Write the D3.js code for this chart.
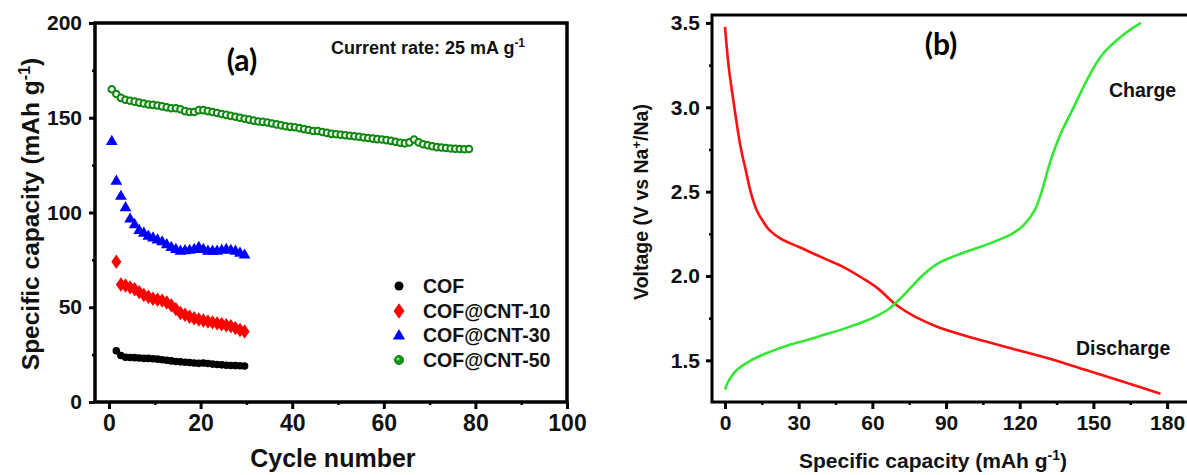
<!DOCTYPE html>
<html><head><meta charset="utf-8">
<script src="https://cdn.jsdelivr.net/npm/d3@7"></script>
<style>
body{margin:0;background:#fff;}
svg{display:block;font-family:"Liberation Sans",Arial,sans-serif;}
</style></head>
<body><svg id="c" width="1187" height="475"></svg>
<script>
// ---------- Panel (a) data ----------
const cofCycles = d3.range(2, 31);
const cofValues = [27,24.5,23.6,23.5,23.4,23.2,23,23,22.8,22.6,22.3,22,21.7,21.4,21.2,21,20.8,20.6,20.4,20.6,20.3,20,19.8,19.6,19.4,19.3,19.2,19.1,19];
const cnt10Cycles = d3.range(2, 31);
const cnt10Values = [74,62,61.5,60.5,59.5,58,56.5,55.5,54.5,54,53.5,52.5,51,49,47,46,45,44.2,43.5,43,42.5,42,41.5,41,40.5,40,39,38,37.2];
const cnt30Cycles = d3.range(1, 31);
const cnt30Values = [138,117,109,103,97,94,91,89.5,88,87,86,85,83.5,82,81,80,80.3,80.5,81,82,81,80,80,80,80.5,81,80.5,80,79,78];
const cnt50Cycles = d3.range(1, 80);
const cnt50Values = [165,162.5,160.5,159.5,159,158.5,158,157.5,157,156.8,156.5,156,155.5,155,155,154.5,153.5,153,153,154,154,153.5,153,152.5,152,151.5,151,150.5,150,149.5,149,148.5,148,147.8,147.5,147,146.5,146,145.5,145.2,145,144.5,144,143.5,143,143,142.5,142,141.5,141.3,141,140.8,140.5,140.2,140,139.6,139.3,139,138.7,138.5,138.2,137.8,137.3,136.8,136.5,137,138.5,137,136,135.5,135,134.5,134.3,134,133.8,133.6,133.5,133.4,133.5];
const seriesNames = ["COF","COF@CNT-10","COF@CNT-30","COF@CNT-50"];
const xTicksA = [0,20,40,60,80,100];
const yTicksA = [0,50,100,150,200];

// ---------- Panel (b) data ----------
const dischargeCap = [0,1.5,3,4.6,6.4,8.4,10.6,12.9,15.2,18.2,22.8,30.4,41,48.6,56.2,62.3,69.9,77.5,86.6,101.8,117,132.2,147.3,162.5,177.3];
const dischargeV   = [3.476,3.24,3.08,2.92,2.76,2.63,2.49,2.39,2.33,2.27,2.22,2.17,2.10,2.05,1.985,1.925,1.826,1.757,1.698,1.629,1.569,1.510,1.441,1.372,1.302];
const chargeCap = [0,1.5,4.6,10.6,18.2,25.8,33.4,41,48.6,56.2,62.3,66.8,71.4,75.9,80.5,86.6,94.2,101.8,109.4,117,121.5,126.1,129.1,132.2,136.7,141.3,147.3,153.4,159.5,165.6,169.4];
const chargeV   = [1.326,1.38,1.44,1.50,1.55,1.59,1.62,1.654,1.688,1.727,1.767,1.806,1.866,1.935,2.004,2.073,2.122,2.162,2.202,2.251,2.30,2.39,2.508,2.666,2.844,2.98,3.16,3.308,3.397,3.466,3.5];
const xTicksB = [0,30,60,90,120,150,180];
const yTicksB = [1.5,2.0,2.5,3.0,3.5];

const svg = d3.select("#c");

function centerText(t, cx, cy, rot){
  const b = t.node().getBBox();
  t.attr("transform", `translate(${cx},${cy}) rotate(${rot||0}) translate(${-b.x - b.width/2},${-b.y - b.height/2})`);
}

// ================= Panel (a) =================
const xa = d3.scaleLinear().domain([-3.06,100]).range([95,567]);
const ya = d3.scaleLinear().domain([0,200]).range([402,23]);
const ga = svg.append("g");

ga.append("g").attr("transform","translate(0,402)")
  .call(d3.axisBottom(xa).tickValues(d3.range(10,100,20)).tickSize(3).tickFormat(""))
  .call(g=>g.select(".domain").remove())
  .call(g=>g.selectAll("line").attr("stroke-width",2.5));
ga.append("g").attr("transform","translate(95,0)")
  .call(d3.axisLeft(ya).tickValues(d3.range(25,200,50)).tickSize(3).tickFormat(""))
  .call(g=>g.select(".domain").remove())
  .call(g=>g.selectAll("line").attr("stroke-width",2.5));
ga.append("g").attr("transform","translate(0,402)")
  .call(d3.axisBottom(xa).tickValues(xTicksA).tickSize(7).tickPadding(6))
  .call(g=>g.select(".domain").remove())
  .call(g=>g.selectAll("line").attr("stroke-width",3))
  .call(g=>g.selectAll("text").attr("font-size",23).attr("font-weight","bold").attr("fill","#111").attr("font-family","Liberation Sans, Arial"));
ga.append("g").attr("transform","translate(95,0)")
  .call(d3.axisLeft(ya).tickValues(yTicksA).tickSize(6).tickPadding(7))
  .call(g=>g.select(".domain").remove())
  .call(g=>g.selectAll("line").attr("stroke-width",3))
  .call(g=>g.selectAll("text").attr("font-size",21).attr("font-weight","bold").attr("fill","#111").attr("font-family","Liberation Sans, Arial"));
ga.append("rect").attr("x",95).attr("y",23).attr("width",567-95).attr("height",402-23)
  .attr("fill","none").attr("stroke","#000").attr("stroke-width",3.5);

const sym = (type,size)=>d3.symbol().type(type).size(size)();
function drawSeries(cycles, values, draw){
  cycles.forEach((c,i)=>draw(xa(c-0.4), ya(values[i])));
}
drawSeries(cnt50Cycles, cnt50Values, (x,y)=>{
  ga.append("circle").attr("cx",x).attr("cy",y).attr("r",3.3).attr("fill","#eef8ee").attr("stroke","#0f870f").attr("stroke-width",2);
});
drawSeries(cnt30Cycles, cnt30Values, (x,y)=>{
  ga.append("path").attr("d",sym(d3.symbolTriangle,60)).attr("transform",`translate(${x},${y+1})`).attr("fill","#0000ff");
});
drawSeries(cnt10Cycles, cnt10Values, (x,y)=>{
  ga.append("path").attr("d",sym(d3.symbolDiamond,60)).attr("transform",`translate(${x},${y}) scale(1.2,1)`).attr("fill","#ff0000");
});
drawSeries(cofCycles, cofValues, (x,y)=>{
  ga.append("circle").attr("cx",x).attr("cy",y).attr("r",3.8).attr("fill","#000");
});

// legend
const legY = [286,311,335,360];
const legG = ga.append("g");
legG.append("circle").attr("cx",399).attr("cy",legY[0]).attr("r",4.5).attr("fill","#000");
legG.append("path").attr("d",sym(d3.symbolDiamond,70)).attr("transform",`translate(399,${legY[1]}) scale(1.2,1)`).attr("fill","#ff0000");
legG.append("path").attr("d",sym(d3.symbolTriangle,65)).attr("transform",`translate(399,${legY[2]+1})`).attr("fill","#0000ff");
legG.append("circle").attr("cx",399).attr("cy",legY[3]).attr("r",4.5).attr("fill","#149614").attr("stroke","#0a7a0a").attr("stroke-width",1);
legG.append("circle").attr("cx",398).attr("cy",legY[3]-1).attr("r",1.6).attr("fill","#7fd07f");
seriesNames.forEach((n,i)=>{
  legG.append("text").attr("x",423).attr("y",legY[i]+7).attr("font-size",19.5).attr("font-weight","bold").attr("fill","#111").text(n);
});

ga.append("text").attr("x",242).attr("y",71).attr("text-anchor","middle").attr("font-size",30).attr("font-weight","bold").attr("font-family","Lato, Liberation Sans").text("(a)");
const cr = ga.append("text").attr("x",331).attr("y",54).attr("font-size",18).attr("font-weight","bold").attr("fill","#111");
cr.append("tspan").text("Current rate: 25 mA g");
cr.append("tspan").attr("dy",-7).attr("font-size",12).text("-1");
const yla = ga.append("text").attr("font-size",24.5).attr("font-weight","bold").attr("fill","#111");
yla.append("tspan").text("Specific capacity (mAh g");
yla.append("tspan").attr("dy",-9).attr("font-size",16).text("-1");
yla.append("tspan").attr("dy",9).text(")");
centerText(yla, 30, 214, -90);
const xla = ga.append("text").attr("font-size",25).attr("font-weight","bold").attr("fill","#111").text("Cycle number");
centerText(xla, 333, 458, 0);

// ================= Panel (b) =================
const xb = d3.scaleLinear().domain([-5.3,190]).range([712,712+195.3*2.456]);
const yb = d3.scaleLinear().domain([1.253,3.547]).range([402,15]);
const gb = svg.append("g");

gb.append("g").attr("transform","translate(0,402)")
  .call(d3.axisBottom(xb).tickValues(d3.range(15,180,30)).tickSize(3).tickFormat(""))
  .call(g=>g.select(".domain").remove())
  .call(g=>g.selectAll("line").attr("stroke-width",2.5));
gb.append("g").attr("transform","translate(712,0)")
  .call(d3.axisLeft(yb).tickValues([1.75,2.25,2.75,3.25]).tickSize(3).tickFormat(""))
  .call(g=>g.select(".domain").remove())
  .call(g=>g.selectAll("line").attr("stroke-width",2.5));
gb.append("g").attr("transform","translate(0,402)")
  .call(d3.axisBottom(xb).tickValues(xTicksB).tickSize(7).tickPadding(6))
  .call(g=>g.select(".domain").remove())
  .call(g=>g.selectAll("line").attr("stroke-width",3))
  .call(g=>g.selectAll("text").attr("font-size",21).attr("font-weight","bold").attr("fill","#111").attr("font-family","Liberation Sans, Arial"));
gb.append("g").attr("transform","translate(712,0)")
  .call(d3.axisLeft(yb).tickValues(yTicksB).tickSize(6).tickPadding(6).tickFormat(d3.format(".1f")))
  .call(g=>g.select(".domain").remove())
  .call(g=>g.selectAll("line").attr("stroke-width",3))
  .call(g=>g.selectAll("text").attr("font-size",21).attr("font-weight","bold").attr("fill","#111").attr("font-family","Liberation Sans, Arial"));
gb.append("rect").attr("x",712).attr("y",15).attr("width",xb(190)-712).attr("height",402-15)
  .attr("fill","none").attr("stroke","#000").attr("stroke-width",3);

const lineB = d3.line().x(d=>xb(d[0])).y(d=>yb(d[1])).curve(d3.curveCatmullRom.alpha(0.5));
gb.append("path").attr("d",lineB(dischargeCap.map((c,i)=>[c,dischargeV[i]])))
  .attr("fill","none").attr("stroke","#ff1010").attr("stroke-width",2.6);
gb.append("path").attr("d",lineB(chargeCap.map((c,i)=>[c,chargeV[i]])))
  .attr("fill","none").attr("stroke","#33e833").attr("stroke-width",2.6);

gb.append("text").attr("x",941).attr("y",55).attr("text-anchor","middle").attr("font-size",30).attr("font-weight","bold").attr("font-family","Lato, Liberation Sans").text("(b)");
gb.append("text").attr("x",1109).attr("y",97).attr("font-size",19.5).attr("font-weight","bold").attr("fill","#111").text("Charge");
gb.append("text").attr("x",1076).attr("y",355).attr("font-size",19.5).attr("font-weight","bold").attr("fill","#111").text("Discharge");
const ylb = gb.append("text").attr("font-size",19.5).attr("font-weight","bold").attr("fill","#111");
ylb.append("tspan").text("Voltage (V vs Na");
ylb.append("tspan").attr("dy",-7).attr("font-size",13).text("+");
ylb.append("tspan").attr("dy",7).text("/Na)");
centerText(ylb, 640, 202, -90);
const xlb = gb.append("text").attr("x",0).attr("y",0).attr("font-size",21).attr("font-weight","bold").attr("fill","#111");
xlb.append("tspan").text("Specific capacity (mAh g");
xlb.append("tspan").attr("dy",-8).attr("font-size",14).text("-1");
xlb.append("tspan").attr("dy",8).text(")");
centerText(xlb, 933, 459, 0);
</script></body></html>
